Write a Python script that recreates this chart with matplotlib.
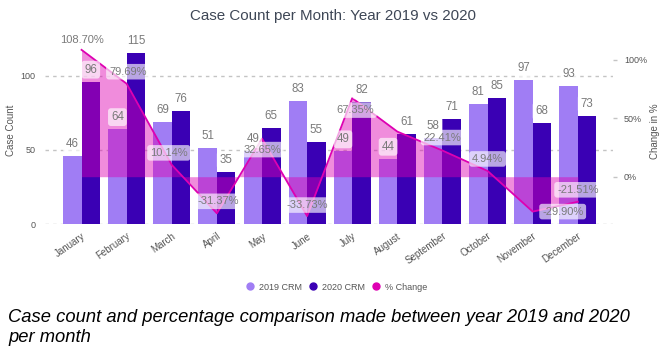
import numpy as np
import matplotlib.pyplot as plt
from matplotlib.lines import Line2D

plt.rcParams['font.family'] = ['Liberation Sans', 'DejaVu Sans']

# data
months = ['January', 'February', 'March', 'April', 'May', 'June', 'July',
          'August', 'September', 'October', 'November', 'December']
crm_2019 = [46, 64, 69, 51, 49, 83, 49, 44, 58, 81, 97, 93]
crm_2020 = [96, 115, 76, 35, 65, 55, 82, 61, 71, 85, 68, 73]
pct_change = [108.70, 79.69, 10.14, -31.37, 32.65, -33.73, 67.35, 38.64,
              22.41, 4.94, -29.90, -21.51]
# August label is hidden in the original (overlap)
pct_labels = ['108.70%', '79.69%', '10.14%', '-31.37%', '32.65%', '-33.73%',
              '67.35%', '', '22.41%', '4.94%', '-29.90%', '-21.51%']

c2019 = '#A07DF4'
c2020 = '#3A00B4'
cpct = '#DE00B2'
grey = '#7a7a7a'

# label offsets in pixels (dx, dy up)
pct_offsets = [(0, 10), (1, 12), (-3, 12), (1, 12), (0, -11), (0, 11),
               (3, -12), (0, 12), (0, 13), (0, 12), (30, 0), (0, 12)]

fig = plt.figure(figsize=(6.66, 3.54), dpi=100)
ax = fig.add_axes([45 / 666, 1 - 224 / 354, 568 / 666, 184 / 354])
ax2 = ax.twinx()

x = np.arange(len(months))
w = 0.41
ax.bar(x - w / 2, crm_2019, width=w, color=c2019, zorder=2)
ax.bar(x + w / 2, crm_2020, width=w, color=c2020, zorder=2)

ax.set_xlim(-0.81, 11.78)
ax.set_ylim(0, 184 / 1.4827)
ax2.set_ylim(-(224 - 176.7) / 1.167, (176.7 - 40) / 1.167)

# pct area + line on the right axis
ax2.fill_between(x, pct_change, 0, color=cpct, alpha=0.45, linewidth=0)
ax2.plot(x, pct_change, color=cpct, linewidth=1.3)

# grid on left axis
ax.set_yticks([0, 50, 100])
ax.yaxis.grid(True, linestyle=(0, (2.5, 3)), color='#c4c4c4', linewidth=1)
ax.set_axisbelow(True)
ax.tick_params(axis='y', length=0, pad=7, labelsize=6.5, labelcolor='#555555')
ax2.set_yticks([0, 50, 100])
ax2.set_yticklabels(['0%', '50%', '100%'])
ax2.tick_params(axis='y', length=3, width=1, color='#c4c4c4', pad=5,
                labelsize=6.5, labelcolor='#555555')

ax.set_xticks(x)
ax.set_xticklabels(months, rotation=35, ha='right', rotation_mode='anchor')
ax.tick_params(axis='x', length=0, pad=5, labelsize=7, labelcolor='#555555')

for a in (ax, ax2):
    for s in a.spines.values():
        s.set_visible(False)

box = dict(boxstyle='round,pad=0.25', fc='white', ec='none', alpha=0.65)

# bar value labels (drawn on ax2 so they sit above the pink area)
for i in range(len(months)):
    ax2.annotate(str(crm_2019[i]), (x[i] - w / 2, crm_2019[i]), xycoords=ax.transData,
                 xytext=(0, 12), textcoords='offset pixels', ha='center', va='center',
                 fontsize=8.3, color=grey, bbox=box)
    ax2.annotate(str(crm_2020[i]), (x[i] + w / 2, crm_2020[i]), xycoords=ax.transData,
                 xytext=(0, 12), textcoords='offset pixels', ha='center', va='center',
                 fontsize=8.3, color=grey, bbox=box)

for i in range(len(months)):
    if not pct_labels[i]:
        continue
    ax2.annotate(pct_labels[i], (x[i], pct_change[i]), xytext=pct_offsets[i],
                 textcoords='offset pixels', ha='center', va='center',
                 fontsize=8, color=grey, bbox=box if i else None)

fig.text(0.5, 1 - 16 / 354, 'Case Count per Month: Year 2019 vs 2020',
         ha='center', va='center', fontsize=10.9, color='#3E4756')
fig.text(11 / 666, 1 - 130 / 354, 'Case Count', rotation=90, ha='center',
         va='center', fontsize=7, color='#555555')
fig.text(655 / 666, 1 - 131 / 354, 'Change in %', rotation=90, ha='center',
         va='center', fontsize=7, color='#555555')

handles = [Line2D([], [], marker='o', linestyle='', color=c, markersize=5)
           for c in (c2019, c2020, cpct)]
fig.legend(handles, ['2019 CRM', '2020 CRM', '% Change'], loc='center',
           bbox_to_anchor=(334 / 666, 1 - 287 / 354), ncol=3, frameon=False,
           fontsize=6.5, handletextpad=0.0, columnspacing=0.2,
           labelcolor='#555555')

fig.text(8 / 666, 1 - 317 / 354,
         'Case count and percentage comparison made between year 2019 and 2020',
         ha='left', va='center', fontsize=13.25, style='italic', color='black')
fig.text(8 / 666, 1 - 337 / 354, 'per month', ha='left', va='center',
         fontsize=13.25, style='italic', color='black')

fig.savefig('out.png', dpi=100)
